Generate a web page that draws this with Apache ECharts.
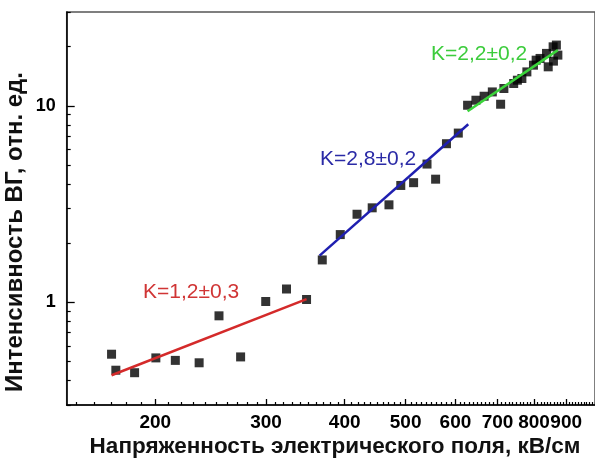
<!DOCTYPE html>
<html>
<head>
<meta charset="utf-8">
<script src="https://cdn.jsdelivr.net/npm/echarts@6/dist/echarts.min.js"></script>
<style>
  html, body { margin: 0; padding: 0; background: #fff; }
  #chart { width: 595px; height: 461px; }
</style>
</head>
<body>
<div id="chart"></div>
<script>
// Field strength (kV/cm) and SHG intensity (arb. units), three regimes
const fieldLow  = [170.4, 173.1, 185.4, 200.4, 215.2, 234.8, 252.5, 273.3, 299.6, 323.3, 347.9];
const shgLow    = [0.544, 0.451, 0.438, 0.521, 0.506, 0.492, 0.853, 0.527, 1.009, 1.168, 1.033];

const fieldMid  = [368.5, 393.6, 418.5, 442.4, 470.4, 491.2, 514.8, 540.7, 558, 580.6, 606.3];
const shgMid    = [1.642, 2.21, 2.805, 3.024, 3.132, 3.93, 4.06, 5.05, 4.23, 6.41, 7.26];

const fieldHigh = [627.3, 646.7, 666.4, 686.7, 707.9, 716.4, 742.6, 752.7, 765.2, 779.3, 798.3,
                   806.2, 817.8, 837.4, 842.6, 857.9, 858.9, 868.2, 872.9];
const shgHigh   = [10.06, 10.67, 11.18, 11.76, 10.18, 12.24, 12.98, 13.49, 13.76, 14.87, 16.09,
                   17.06, 17.41, 18.47, 15.78, 19.95, 16.87, 20.36, 18.1];

// Power-law fit segments (end points) and slopes
const fitLowX  = [170.4, 347.9];  const fitLowY  = [0.425, 1.038];
const fitMidX  = [364.9, 628.8];  const fitMidY  = [1.727, 8.05];
const fitHighX = [627.3, 872.9];  const fitHighY = [9.38, 19.19];
const slopeLabels = ['K=1,2±0,3', 'K=2,8±0,2', 'K=2,2±0,2'];

// Axis ticks
const xMajor = [200, 300, 400, 500, 600, 700, 800, 900];
const xMinor = [];
for (let v = 150; v <= 1000; v += 10) if (xMajor.indexOf(v) < 0) xMinor.push(v);
const yMajor = [1, 10];
const yMinor = [0.3, 0.4, 0.5, 0.6, 0.7, 0.8, 0.9, 2, 3, 4, 5, 6, 7, 8, 9, 20, 30];

const xTitle = 'Напряженность электрического поля, кВ/см';
const yTitle = 'Интенсивность ВГ, отн. ед.';

const FONT = '"Liberation Sans", Arial, sans-serif';
const X_MIN = 144.6, X_MAX = 1000, Y_MIN = 0.3, Y_MAX = 30;

const pairs = (xs, ys) => xs.map((x, i) => [x, ys[i]]);

const chart = echarts.init(document.getElementById('chart'), null, { renderer: 'canvas' });

const baseX = {
  type: 'log', logBase: 10, min: X_MIN, max: X_MAX,
  splitLine: { show: false }, minorTick: { show: false }
};
const baseY = {
  type: 'log', logBase: 10, min: Y_MIN, max: Y_MAX,
  splitLine: { show: false }, minorTick: { show: false }
};

const scatterStyle = { color: '#000' };

chart.setOption({
  animation: false,
  grid: {
    left: 66.7, top: 12, right: -7.6, bottom: 56,
    show: true, borderColor: '#555', borderWidth: 1.5, backgroundColor: 'transparent'
  },
  xAxis: [
    Object.assign({}, baseX, {
      position: 'bottom',
      axisLine: { show: true, lineStyle: { color: '#000', width: 1.5 } },
      axisTick: { show: true, inside: true, length: 6, customValues: xMajor, lineStyle: { color: '#000', width: 1.3 } },
      axisLabel: {
        show: true, customValues: xMajor, margin: 8,
        color: '#000', fontFamily: FONT, fontWeight: 'bold', fontSize: 19
      }
    }),
    Object.assign({}, baseX, {
      position: 'bottom',
      axisLine: { show: false },
      axisTick: { show: true, inside: true, length: 3, customValues: xMinor, lineStyle: { color: '#000', width: 1.2 } },
      axisLabel: { show: false }
    })
  ],
  yAxis: [
    Object.assign({}, baseY, {
      position: 'left',
      axisLine: { show: true, lineStyle: { color: '#000', width: 1.5 } },
      axisTick: { show: true, inside: true, length: 8, customValues: yMajor, lineStyle: { color: '#000', width: 1.3 } },
      axisLabel: {
        show: true, customValues: yMajor, margin: 11,
        color: '#000', fontFamily: FONT, fontWeight: 'bold', fontSize: 18
      }
    }),
    Object.assign({}, baseY, {
      position: 'left',
      axisLine: { show: false },
      axisTick: { show: true, inside: true, length: 4, customValues: yMinor, lineStyle: { color: '#000', width: 1.2 } },
      axisLabel: { show: false }
    })
  ],
  series: [
    { type: 'line', data: pairs(fitLowX, fitLowY), symbol: 'none', lineStyle: { color: '#d42a2a', width: 2.5 }, z: 3 },
    { type: 'line', data: pairs(fitMidX, fitMidY), symbol: 'none', lineStyle: { color: '#1f1fb0', width: 2.5 }, z: 3 },
    { type: 'scatter', data: pairs(fieldLow, shgLow), symbol: 'rect', symbolSize: 9, itemStyle: scatterStyle, z: 2 },
    { type: 'scatter', data: pairs(fieldMid, shgMid), symbol: 'rect', symbolSize: 9, itemStyle: scatterStyle, z: 2 },
    { type: 'scatter', data: pairs(fieldHigh, shgHigh), symbol: 'rect', symbolSize: 9, itemStyle: scatterStyle, z: 2 },
    { type: 'line', data: pairs(fitHighX, fitHighY), symbol: 'none', lineStyle: { color: '#3ad43a', width: 2.5 }, z: 4 }
  ],
  graphic: [
    { type: 'text', left: 143, top: 282, style: { text: slopeLabels[0], fill: '#d03535', font: '21px ' + FONT } },
    { type: 'text', left: 320, top: 149, style: { text: slopeLabels[1], fill: '#2a2aa6', font: '21px ' + FONT } },
    { type: 'text', left: 431, top: 44, style: { text: slopeLabels[2], fill: '#3ccc3c', font: '21px ' + FONT } },
    {
      type: 'text', x: 335, y: 447,
      style: { text: xTitle, fill: '#111', font: 'bold 22.5px ' + FONT, align: 'center', verticalAlign: 'middle' }
    },
    {
      type: 'text', x: 15, y: 232, rotation: Math.PI / 2,
      style: { text: yTitle, fill: '#111', font: 'bold 24px ' + FONT, align: 'center', verticalAlign: 'middle' }
    }
  ]
});
</script>
</body>
</html>
